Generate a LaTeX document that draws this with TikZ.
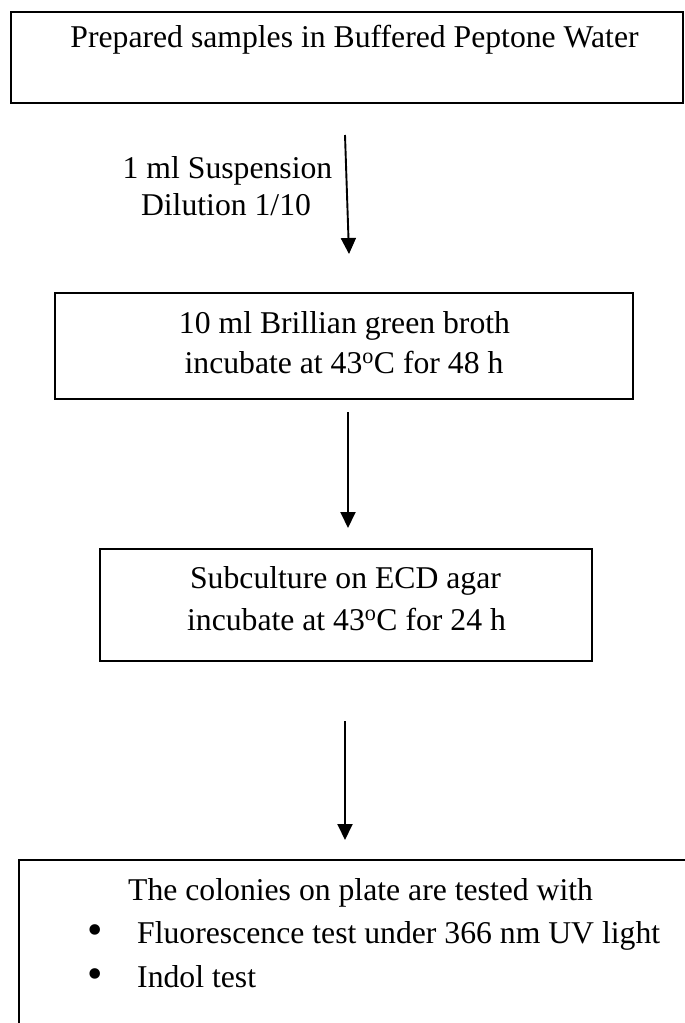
\documentclass[tikz,border=0pt]{standalone}
\usepackage{fontspec}
\setmainfont{Liberation Serif}
\usetikzlibrary{arrows.meta}
\begin{document}
\begin{tikzpicture}[x=1pt,y=-1pt,
  stagebox/.style={draw=black, line width=2.2pt, inner sep=0pt, fill=none},
  txt/.style={anchor=base, inner sep=0pt, font=\fontsize{31.7}{41}\selectfont},
  dot/.style={anchor=base, inner sep=0pt, font=\fontsize{44}{41}\selectfont},
  flow/.style={line width=1.9pt, -{Triangle[width=15pt,length=16pt]}}]
  \clip (0,0) rectangle (685,1023);
  \fill[white] (0,0) rectangle (685,1023);

  % process boxes
  \node[stagebox, minimum width=672pt, minimum height=91pt] (b1) at (347,57.5) {};
  \node[stagebox, minimum width=578pt, minimum height=106pt] (b2) at (344,346) {};
  \node[stagebox, minimum width=492pt, minimum height=112pt] (b3) at (346,605) {};
  \node[stagebox, minimum width=720pt, minimum height=240pt] (b4) at (379,980) {};

  % box texts
  \node[txt] (t1) at (354.5,47) {Prepared samples in Buffered Peptone Water};
  \node[txt] (t2a) at (344.5,333) {10 ml Brillian green broth};
  \node[txt] (t2b) at (344,373) {incubate at 43\textsuperscript{o}C for 48 h};
  \node[txt] (t3a) at (345.5,588) {Subculture on ECD agar};
  \node[txt] (t3b) at (346.5,630) {incubate at 43\textsuperscript{o}C for 24 h};
  \node[txt, anchor=base west] (t4) at (128,900) {The colonies on plate are tested with};
  \node[dot] (d1) at (95,944) {•};
  \node[txt, anchor=base west] (t4a) at (137,943) {Fluorescence test under 366 nm UV light};
  \node[dot] (d2) at (95,988) {•};
  \node[txt, anchor=base west] (t4b) at (137,987) {Indol test};

  % arrow label
  \node[txt] (l1) at (227.5,178) {1 ml Suspension};
  \node[txt] (l2) at (226,215) {Dilution 1/10};

  % connectors
  \coordinate (a1s) at (345,135);
  \coordinate (a1e) at (349,254);
  \coordinate (a2s) at (348,412);
  \coordinate (a2e) at (348,528);
  \coordinate (a3s) at (345,721);
  \coordinate (a3e) at (345,840);
  \draw[flow] (a1s) -- (a1e);
  \draw[flow] (a2s) -- (a2e);
  \draw[flow] (a3s) -- (a3e);
\end{tikzpicture}
\end{document}
